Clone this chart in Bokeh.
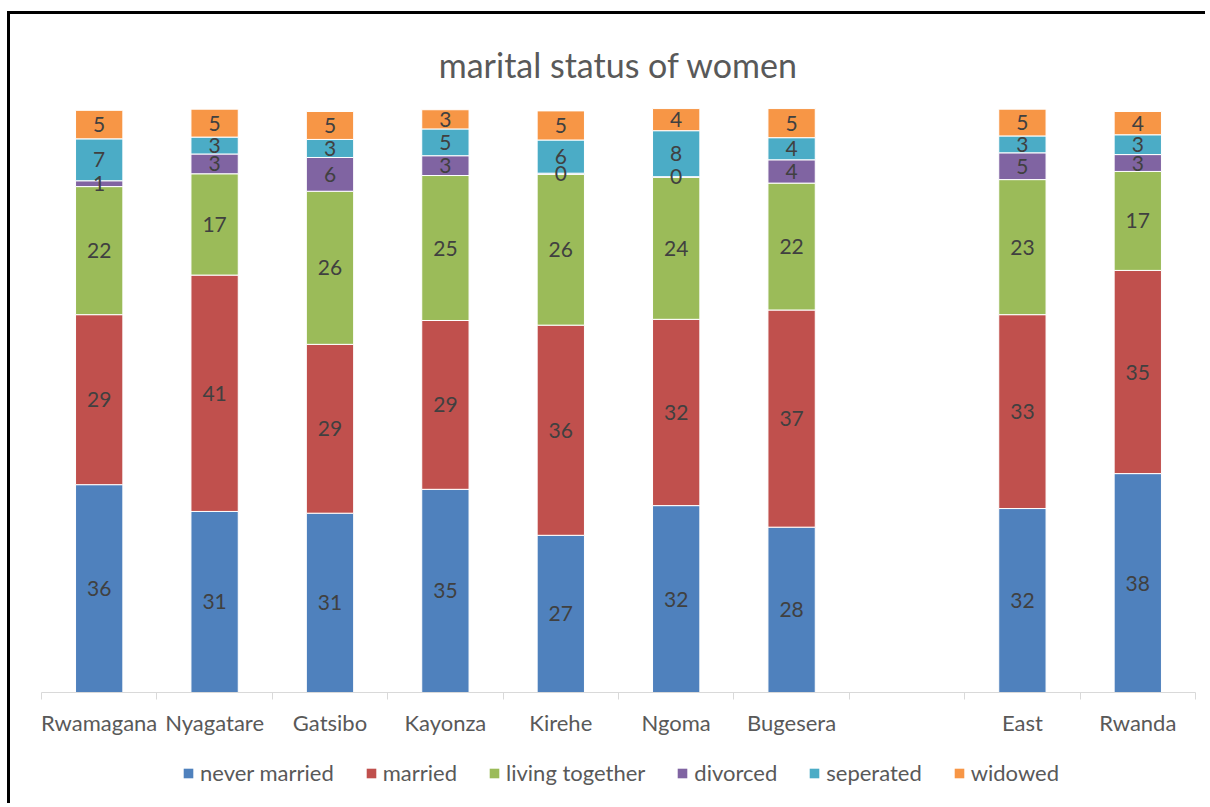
from bokeh.plotting import figure
from bokeh.layouts import column
from bokeh.models import (Range1d, LinearAxis, FixedTicker,
                          Legend, LegendItem, ColumnDataSource)
from bokeh.core.properties import value
from bokeh.embed import file_html
from bokeh.resources import INLINE

# ---- data ----
axis_factors = ["Rwamagana", "Nyagatare", "Gatsibo", "Kayonza", "Kirehe", "Ngoma",
                "Bugesera", "", "East", "Rwanda"]
districts = ["Rwamagana", "Nyagatare", "Gatsibo", "Kayonza", "Kirehe", "Ngoma",
             "Bugesera", "East", "Rwanda"]
series_names = ["never married", "married", "living together", "divorced", "seperated", "widowed"]
never_married = [35.7, 31.1, 30.8, 34.9, 27.0, 32.1, 28.4, 31.6, 37.6]
married = [29.2, 40.6, 29.0, 29.0, 36.1, 32.0, 37.3, 33.3, 34.9]
living_together = [22.0, 17.4, 26.3, 24.9, 25.9, 24.4, 21.8, 23.2, 17.0]
divorced = [1.0, 3.4, 5.8, 3.4, 0.2, 0.1, 4.0, 4.6, 2.9]
seperated = [7.2, 2.9, 3.1, 4.6, 5.7, 7.9, 3.8, 2.9, 3.4]
widowed = [4.9, 4.8, 4.8, 3.3, 5.0, 3.8, 5.0, 4.6, 4.0]
colors = ["#4F81BD", "#C0504D", "#9BBB59", "#8064A2", "#4BACC6", "#F79646"]
title_text = "marital status of women"

series = [never_married, married, living_together, divorced, seperated, widowed]

FONT = "Lato"
n_cat = len(axis_factors)

p = figure(x_range=Range1d(0, n_cat), y_range=Range1d(0, 101),
           width=1195, height=731, output_backend="svg", toolbar_location=None,
           x_axis_location=None, y_axis_location=None, title=title_text,
           min_border_left=31, min_border_right=10, min_border_top=90, min_border_bottom=53)
p.outline_line_color = None
p.xgrid.grid_line_color = None
p.ygrid.grid_line_color = None
p.background_fill_color = "white"
p.border_fill_color = "white"
p.title.align = "center"
p.title.text_font = FONT
p.title.text_font_size = "34px"
p.title.text_font_style = "normal"
p.title.text_color = "#595959"
p.title.standoff = 39

xpos = [axis_factors.index(d) + 0.5 for d in districts]
data = {"x": xpos}
for n, s in zip(series_names, series):
    data[n] = s
src = ColumnDataSource(data)

renderers = p.vbar_stack(series_names, x="x", width=0.41, color=colors, source=src,
                         line_color="white", line_width=1)

# data labels
lx, ly, lt = [], [], []
for i, xp in enumerate(xpos):
    bottom = 0.0
    for s in series:
        v = s[i]
        lx.append(xp)
        ly.append(bottom + v / 2.0)
        lt.append(str(int(v + 0.5)))
        bottom += v
lsrc = ColumnDataSource(dict(x=lx, y=ly, t=lt))
p.text(x="x", y="y", text="t", source=lsrc, text_align="center", text_baseline="middle",
       text_font=value(FONT), text_font_size="21px", text_color="#404040")

# axis: labels at category centres, tick marks at category boundaries
centers = [i + 0.5 for i in range(n_cat)]
xaxis = LinearAxis(ticker=FixedTicker(ticks=centers, minor_ticks=list(range(n_cat + 1))),
                   major_label_overrides={c: f for c, f in zip(centers, axis_factors)},
                   axis_line_color="#D9D9D9", major_tick_line_color=None,
                   minor_tick_line_color="#D9D9D9", minor_tick_out=7, minor_tick_in=0,
                   major_tick_out=7, major_tick_in=0,
                   major_label_text_font=FONT, major_label_text_font_size="22px",
                   major_label_text_color="#595959", major_label_standoff=9)
p.add_layout(xaxis, "below")

# legend strip below the chart (zero-height swatch glyphs, invisible in the strip)
lp = figure(x_range=Range1d(0, 1), y_range=Range1d(0, 1), width=1195, height=58,
            output_backend="svg", toolbar_location=None,
            x_axis_location=None, y_axis_location=None,
            min_border_left=0, min_border_right=0, min_border_top=0, min_border_bottom=0)
lp.outline_line_color = None
lp.xgrid.grid_line_color = None
lp.ygrid.grid_line_color = None
lp.border_fill_color = "white"
legend_renderers = [lp.vbar(x=[0.5], top=[0.0], width=0.0, fill_color=c, line_color=None)
                    for c in colors]
legend = Legend(items=[LegendItem(label=n, renderers=[r]) for n, r in zip(series_names, legend_renderers)],
                orientation="horizontal", location=(141, 17),
                border_line_color=None, background_fill_alpha=0,
                label_text_font=FONT, label_text_font_size="22px", label_text_color="#595959",
                glyph_width=12, glyph_height=12, label_standoff=6, spacing=31,
                margin=0, padding=0)
lp.add_layout(legend)

layout = column(p, lp, spacing=0)
layout.margin = (11, 0, 0, 7)
layout.styles = {"border-left": "3px solid black", "border-top": "3px solid black"}

open("out.html", "w").write(file_html(layout, INLINE))
